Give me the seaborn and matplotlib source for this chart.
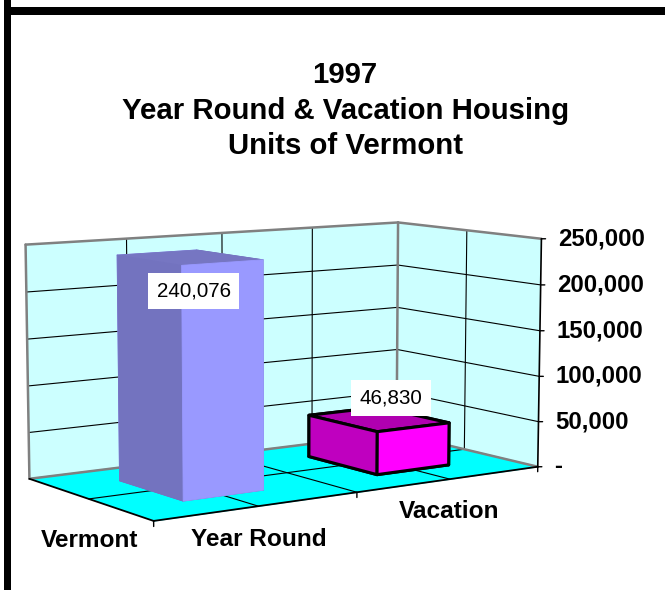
import numpy as np
import pandas as pd
import matplotlib
matplotlib.use("Agg")
import matplotlib.pyplot as plt
import seaborn as sns
from matplotlib.patches import Rectangle

# ---- data -------------------------------------------------------------
series = ["Year Round", "Vacation"]
category = "Vermont"
units = [240076, 46830]
value_ticks = [0, 50000, 100000, 150000, 200000, 250000]
value_tick_labels = ["-", "50,000", "100,000", "150,000", "200,000", "250,000"]
title_lines = ["1997", "Year Round & Vacation Housing", "Units of Vermont"]

# ---- style ------------------------------------------------------------
sns.set_theme(style="white")
plt.rcParams["font.family"] = ["Liberation Sans", "DejaVu Sans"]

wall_color = "#CCFFFF"
floor_color = "#00FFFF"
wall_edge = "#808080"
front_colors = ["#9999FF", "#FF00FF"]
side_colors = ["#7373BF", "#BF00BF"]
top_colors = ["#7676C2", "#B000B0"]
edge_colors = [None, "black"]

df = pd.DataFrame({"series": series, "units": units})
df["pos"] = np.arange(len(df))
n = len(series)
zmax = value_ticks[-1]

fig = plt.figure(figsize=(6.65, 5.9), dpi=100)
ax = fig.add_axes([-0.0065, 0.044, 0.86, 0.68], projection="3d")
ax.set_proj_type("persp", focal_length=1.05)
ax.view_init(elev=8.2, azim=-124.5)
ax.set_box_aspect((2, 1.04, 1.02), zoom=1.37)
ax.set_xlim(0, n)
ax.set_ylim(0, 1)
ax.set_zlim(value_ticks[0], zmax)
ax.patch.set_alpha(0)
ax.grid(False)
ax.set_xticks([])
ax.set_yticks([])
ax.set_zticks([])
for axis, pane in ((ax.xaxis, wall_color), (ax.yaxis, wall_color), (ax.zaxis, floor_color)):
    axis.set_pane_color(pane, alpha=1.0)
    axis.pane.set_edgecolor(pane)
    axis.line.set_color((0, 0, 0, 0))
    axis.label.set_visible(False)
    axis.offsetText.set_visible(False)


def line3d(xs, ys, zs, **kw):
    ax.plot(xs, ys, zs, clip_on=False, zorder=1, **kw)


# grid on the back wall, the side wall and the floor
grid = dict(color="black", lw=0.8)
series_lines = np.arange(0.5, n, 0.5)
for gx in series_lines:
    line3d([gx, gx], [1, 1], [0, zmax], **grid)
    line3d([gx, gx], [0, 1], [0, 0], **grid)
for v in value_ticks[1:-1]:
    line3d([0, n], [1, 1], [v, v], **grid)
    line3d([n, n], [0, 1], [v, v], **grid)
line3d([n, n], [0.5, 0.5], [0, zmax], **grid)
line3d([0, n], [0.5, 0.5], [0, 0], **grid)

# grey outline of the two walls
wall_edges = [
    ([0, 0], [1, 1], [0, zmax]),
    ([n, n], [1, 1], [0, zmax]),
    ([0, n], [1, 1], [zmax, zmax]),
    ([n, n], [1, 0], [zmax, zmax]),
    ([0, n], [1, 1], [0, 0]),
    ([n, n], [1, 0], [0, 0]),
]
for xs, ys, zs in wall_edges:
    line3d(xs, ys, zs, color=wall_edge, lw=1.8)

# front edges of the floor and the value axis
line3d([0, n], [0, 0], [0, 0], color="black", lw=1.3)
line3d([0, 0], [0, 1], [0, 0], color="black", lw=1.3)
line3d([n, n], [0, 0], [0, zmax], color="black", lw=1.2)
for p in range(n + 1):
    line3d([p, p], [0, 0], [0, -5500], color="black", lw=1.0)
for v in value_ticks:
    line3d([n, n + 0.015], [0, -0.01], [v, v], color="black", lw=1.0)

# columns
bar_w, bar_d = 0.4, 0.5
for i, row in df.iterrows():
    # face order: bottom, top, front, back, left, right
    faces = [side_colors[i], top_colors[i], front_colors[i],
             front_colors[i], side_colors[i], side_colors[i]]
    if edge_colors[i] is None:
        ec, lw = faces, 0.6
    else:
        ec, lw = edge_colors[i], 2.2
    ax.bar3d(row["pos"] + 0.5 - bar_w / 2, 0.5 - bar_d / 2, 0,
             bar_w, bar_d, row["units"], color=faces, shade=False,
             edgecolor=ec, linewidth=lw)

# ---- texts anchored to 3D points --------------------------------------
fig.canvas.draw()


def place(x, y, z, s, **kw):
    """Write s at the figure position onto which the 3D point (x, y, z) projects."""
    px, py, _, w = ax.M @ np.array([x, y, z, 1.0])
    disp = ax.transData.transform((px / w, py / w))
    fx, fy = fig.transFigure.inverted().transform(disp)
    return fig.text(fx, fy, s, **kw)


# value axis labels
for v, lab in zip(value_ticks, value_tick_labels):
    place(n + 0.06, -0.04, v, lab, ha="left", va="center",
          fontsize=17.3, fontweight="bold", color="black")

# value labels (anchor shifted from the column centre)
label_dx = [0.02, 0.07]
label_dz = [-35000, 22000]
for i, row in df.iterrows():
    place(row["pos"] + 0.5 + label_dx[i], 0.5, row["units"] + label_dz[i],
          f"{row['units']:,}", ha="center", va="center", fontsize=14.9, color="black",
          bbox=dict(boxstyle="square,pad=0.4", facecolor="white", edgecolor="none"))

# category and series labels
series_label_z = [-34000, -35500]
for i, row in df.iterrows():
    place(row["pos"] + 0.5, 0, series_label_z[i], row["series"], ha="center",
          va="center", fontsize=17.6, fontweight="bold", color="black")
place(0, 0.5, -43500, category, ha="center", va="center",
      fontsize=17.6, fontweight="bold", color="black")

# title and frame
fig.text(0.519, 1 - 61 / 590, "\n".join(title_lines), ha="center", va="top",
         fontsize=21.2, fontweight="bold", color="black", linespacing=1.35)
fig.add_artist(Rectangle((4 / 665, 0), 7 / 665, 1, transform=fig.transFigure,
                         facecolor="black", edgecolor="none"))
fig.add_artist(Rectangle((4 / 665, 1 - 15 / 590), 1, 8 / 590, transform=fig.transFigure,
                         facecolor="black", edgecolor="none"))

fig.savefig("out.png", dpi=100, facecolor="white")
